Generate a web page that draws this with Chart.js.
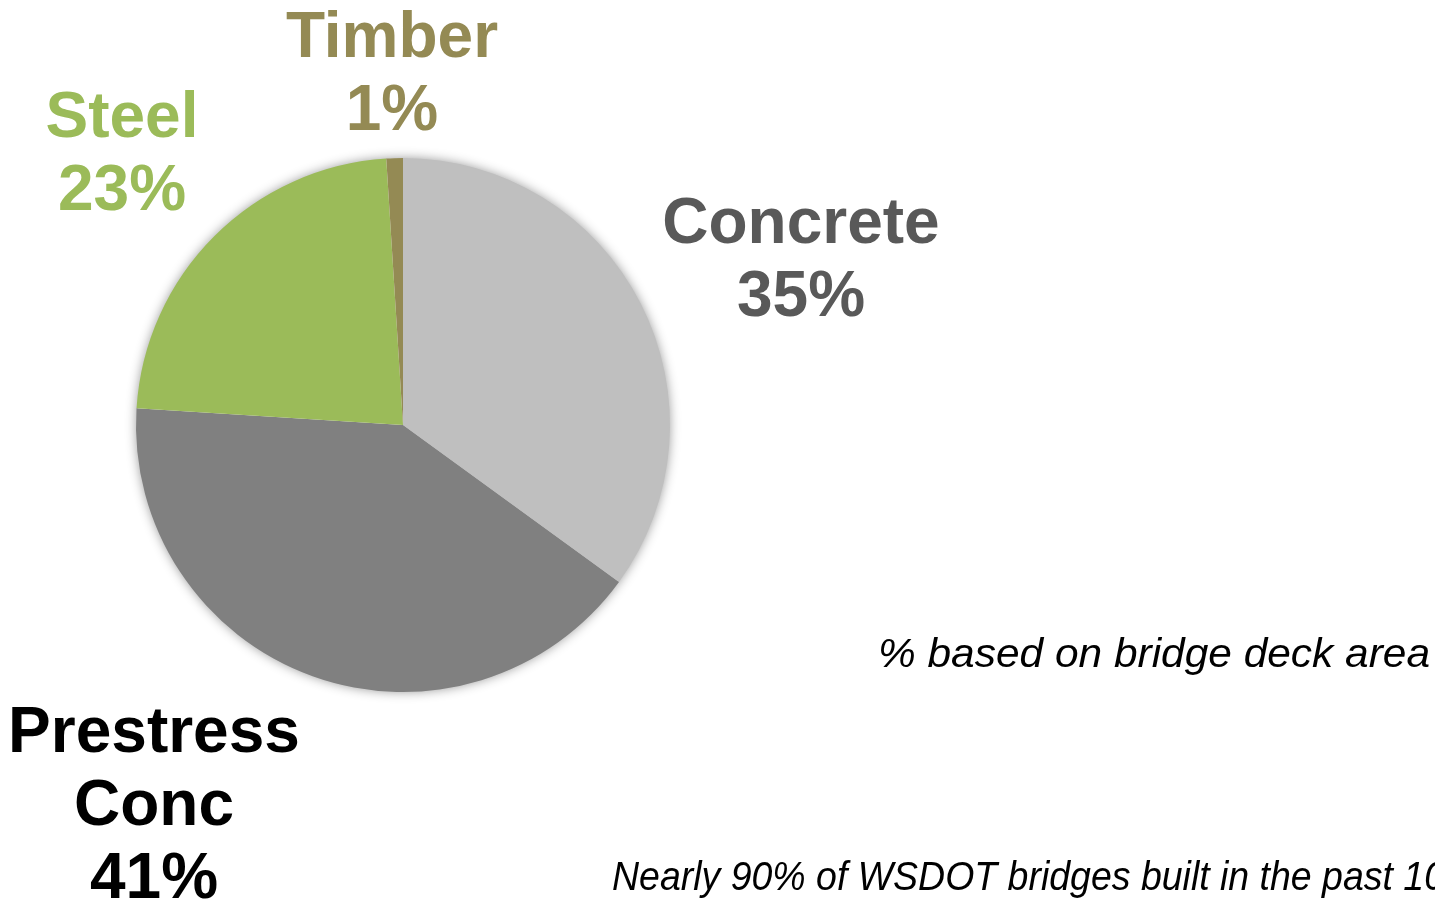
<!DOCTYPE html>
<html>
<head>
<meta charset="utf-8">
<script src="https://cdn.jsdelivr.net/npm/chart.js@4/dist/chart.umd.min.js"></script>
<style>
  html, body { margin: 0; padding: 0; background: #fff; overflow: hidden; }
  canvas { display: block; }
</style>
</head>
<body>
<canvas id="deckChart" width="1435" height="900"></canvas>
<script>
  'use strict';

  // share of bridge deck area by material, clockwise from 12 o'clock
  var materials = ['Concrete', 'Prestress\nConc', 'Steel', 'Timber'];
  var shares = [35, 41, 23, 1];
  var sliceColors = ['#bfbfbf', '#808080', '#9bbb59', '#948a54'];
  var labelColors = ['#595959', '#000000', '#9bbb59', '#948a54'];
  // label block centres (x, first baseline)
  var labelSpots = [[801, 243], [154, 752], [122, 137], [392, 57]];

  var FONT = '"Liberation Sans", Arial, Helvetica, sans-serif';

  // soft drop shadow under the whole pie, drawn once so slice edges stay clean
  var pieShadow = {
    id: 'pieShadow',
    beforeDatasetsDraw: function (chart) {
      var arc = chart.getDatasetMeta(0).data[0];
      if (!arc) return;
      var ctx = chart.ctx;
      ctx.save();
      ctx.shadowColor = 'rgba(0,0,0,0.45)';
      ctx.shadowBlur = 12;
      ctx.fillStyle = '#ffffff';
      ctx.beginPath();
      ctx.arc(arc.x, arc.y, arc.outerRadius - 1, 0, Math.PI * 2);
      ctx.fill();
      ctx.restore();
    }
  };

  // narrow italic note: squeeze horizontally so `fit` spans `width` px
  function noteText(ctx, txt, fit, width, x, y, align) {
    var squeeze = width / ctx.measureText(fit).width;
    ctx.save();
    ctx.translate(x, y);
    ctx.scale(squeeze, 1);
    ctx.textAlign = align;
    ctx.fillText(txt, 0, 0);
    ctx.restore();
  }

  var sliceLabels = {
    id: 'sliceLabels',
    afterDraw: function (chart) {
      var ctx = chart.ctx;
      var vals = chart.data.datasets[0].data;
      ctx.save();
      ctx.textAlign = 'center';
      ctx.textBaseline = 'alphabetic';
      ctx.font = 'bold 64px ' + FONT;
      chart.data.labels.forEach(function (name, i) {
        var lines = name.split('\n').concat([vals[i] + '%']);
        ctx.fillStyle = labelColors[i];
        lines.forEach(function (ln, j) {
          ctx.fillText(ln, labelSpots[i][0], labelSpots[i][1] + j * 73);
        });
      });

      ctx.font = 'italic 40px ' + FONT;
      ctx.fillStyle = '#000';
      var note = '% based on bridge deck area';
      noteText(ctx, note, note, 552, 1430, 667, 'right');
      noteText(ctx, 'Nearly 90% of WSDOT bridges built in the past 10 years',
        'Nearly 90% of WSDOT bridges built in the past 10', 833, 612, 890, 'left');
      ctx.restore();
    }
  };

  new Chart(document.getElementById('deckChart').getContext('2d'), {
    type: 'pie',
    data: {
      labels: materials,
      datasets: [{
        data: shares,
        backgroundColor: sliceColors,
        borderWidth: 0
      }]
    },
    options: {
      responsive: false,
      animation: false,
      layout: { padding: { left: 136, right: 765, top: 158, bottom: 208 } },
      plugins: { legend: { display: false }, tooltip: { enabled: false } }
    },
    plugins: [pieShadow, sliceLabels]
  });
</script>
</body>
</html>
